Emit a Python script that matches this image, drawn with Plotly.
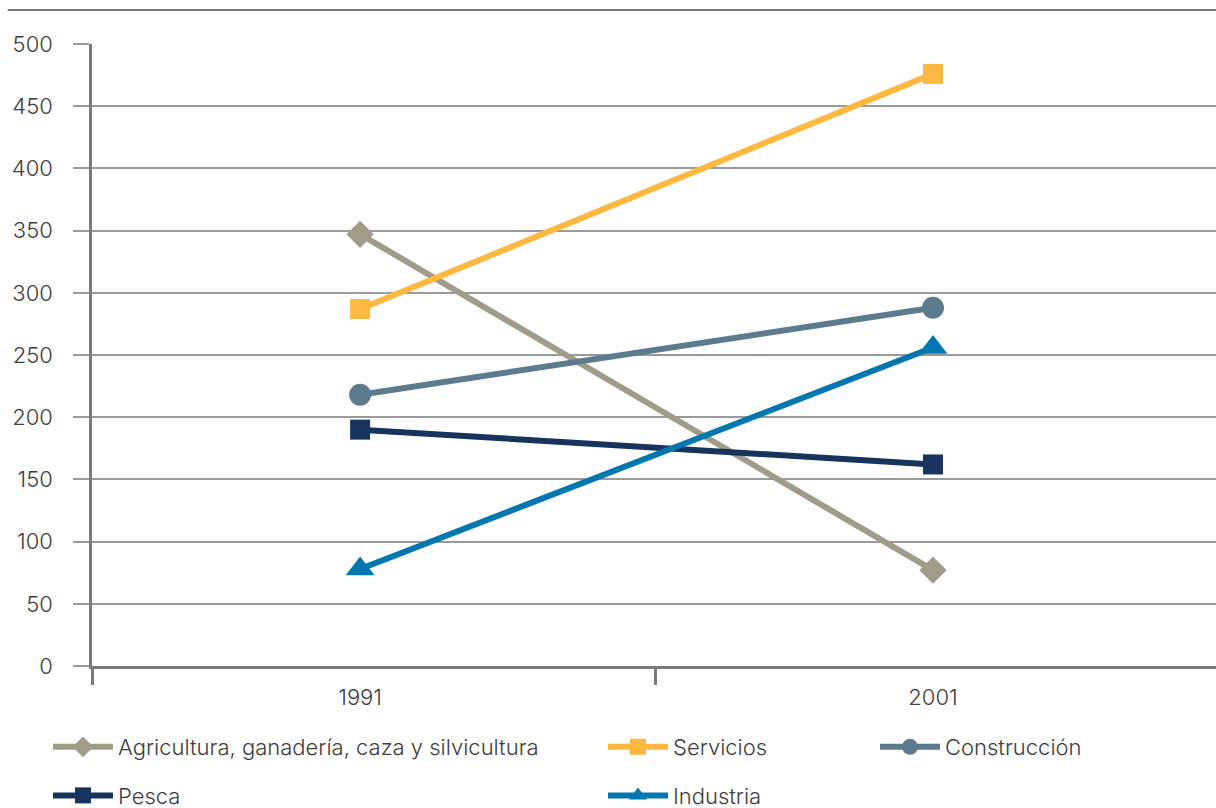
import plotly.graph_objects as go

# Data
years = ["1991", "2001"]
agricultura = [347, 77]
servicios = [287, 476]
construccion = [218, 288]
pesca = [190, 162]
industria = [78, 256]

x_pos = [0, 1]

series = [
    ("Agricultura, ganadería, caza y silvicultura", agricultura, "#A19C89", "diamond", 21, "legend"),
    ("Servicios", servicios, "#FDB83F", "square", 20, "legend2"),
    ("Construcción", construccion, "#5C7B8D", "circle", 22, "legend3"),
    ("Pesca", pesca, "#17345E", "square", 20, "legend"),
    ("Industria", industria, "#0077AE", "triangle-up", 25, "legend2"),
]

fig = go.Figure()
for name, vals, color, sym, size, leg in series:
    fig.add_trace(go.Scatter(
        x=x_pos, y=vals, name=name, mode="lines+markers",
        line=dict(color=color, width=6),
        marker=dict(symbol=sym, size=size, color=color),
        legend=leg, legendgroup=name,
    ))

font_main = "Inter, 'Open Sans', sans-serif"
text_font = dict(family=font_main, size=22, color="#3d3d3d", weight=300)

legend_common = dict(
    orientation="v", yanchor="top", xanchor="left",
    xref="container", yref="container",
    font=text_font,
    itemwidth=60, tracegroupgap=17, bgcolor="rgba(0,0,0,0)",
)
legend_top = 1 - 726 / 808

fig.update_layout(
    width=1216, height=808,
    margin=dict(l=92, r=0, t=44, b=142, autoexpand=False),
    paper_bgcolor="white", plot_bgcolor="white",
    font=text_font,
    legend=dict(x=48 / 1216, y=legend_top, **legend_common),
    legend2=dict(x=603 / 1216, y=legend_top, **legend_common),
    legend3=dict(x=875 / 1216, y=legend_top, **legend_common),
    xaxis=dict(
        range=[-0.468, 1.494], tickvals=x_pos, ticktext=years,
        ticks="", showgrid=False, zeroline=False,
        showline=True, linecolor="#7a7a7a", linewidth=2.5,
        ticklabelstandoff=10,
        tickfont=text_font,
        minor=dict(tickmode="array", tickvals=[-0.468, 0.515], ticks="outside",
                   ticklen=16, tickwidth=2.5, tickcolor="#7a7a7a", showgrid=False),
    ),
    yaxis=dict(
        range=[0, 500], tickvals=[0, 50, 100, 150, 200, 250, 300, 350, 400, 450, 500],
        showgrid=True, gridcolor="#9a9a9a", gridwidth=1.5,
        ticks="outside", ticklen=16, tickcolor="#9a9a9a", tickwidth=1.5,
        showline=True, linecolor="#7a7a7a", linewidth=2.5,
        zeroline=False, ticklabelstandoff=16,
        tickfont=text_font,
    ),
    shapes=[dict(type="line", xref="paper", yref="paper",
                 x0=-0.075, x1=1.0, y0=1.0547, y1=1.0547,
                 line=dict(color="#7a7a7a", width=2))],
)

fig.write_html("out.html")
